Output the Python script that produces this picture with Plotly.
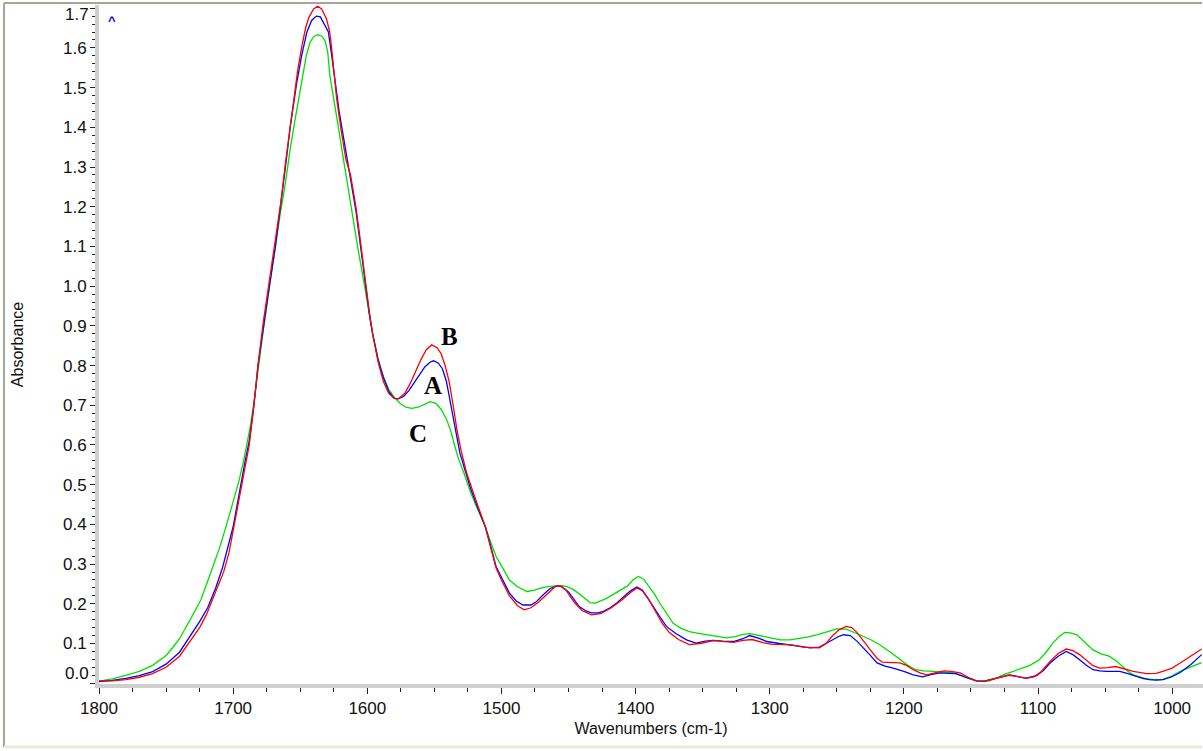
import plotly.graph_objects as go

# ---------------- data ----------------
wn_A = [1800, 1790, 1780, 1770, 1760, 1750, 1740, 1732, 1725, 1719, 1713, 1708, 1704, 1700, 1697, 1694, 1691, 1688,
        1684.5, 1681.5, 1677.5, 1673, 1668.5, 1664.5, 1661, 1657.5, 1654, 1652.7, 1649, 1645, 1641.5, 1638, 1635,
        1632.9, 1629, 1626.5, 1624, 1621, 1617, 1612.5, 1608.5, 1605, 1601.5, 1598.5, 1596, 1592, 1588, 1584, 1580,
        1577, 1573, 1569, 1565, 1561, 1557, 1553, 1550.5, 1547, 1544, 1541, 1538.5, 1535, 1531, 1527, 1523, 1518,
        1512, 1508, 1504, 1499, 1494, 1489, 1484, 1478, 1474, 1469, 1464, 1459, 1455, 1450, 1446, 1442, 1437, 1433,
        1428, 1424, 1419, 1414, 1409, 1404, 1399, 1395, 1391, 1387, 1382, 1377, 1370, 1362, 1355, 1348, 1342, 1335,
        1327, 1320, 1315, 1308, 1302, 1293, 1285, 1277, 1270, 1263, 1258, 1253, 1249, 1245, 1240, 1235, 1230, 1225,
        1220, 1214, 1208, 1200, 1193, 1186, 1179, 1173, 1167, 1161, 1154, 1146, 1140, 1133, 1127, 1121, 1114, 1109,
        1101, 1096, 1091, 1085, 1079, 1074, 1069, 1064, 1059, 1054, 1049, 1044, 1039, 1033, 1027, 1022, 1017, 1012,
        1007, 1001, 994, 986, 978]
abs_A = [0.004, 0.007, 0.012, 0.019, 0.029, 0.048, 0.078, 0.118, 0.155, 0.190, 0.240, 0.290, 0.340, 0.394, 0.450, 0.510, 0.560, 0.610,
         0.700, 0.800, 0.900, 1.000, 1.100, 1.200, 1.300, 1.400, 1.480, 1.510, 1.580, 1.640, 1.669, 1.680, 1.678,
         1.665, 1.640, 1.580, 1.510, 1.440, 1.360, 1.270, 1.190, 1.100, 1.000, 0.930, 0.880, 0.815, 0.770, 0.735, 0.718,
         0.716, 0.722, 0.737, 0.757, 0.778, 0.797, 0.809, 0.812, 0.806, 0.792, 0.760, 0.713, 0.650, 0.580, 0.535, 0.490, 0.445,
         0.394, 0.345, 0.294, 0.260, 0.227, 0.207, 0.197, 0.197, 0.205, 0.222, 0.238, 0.245, 0.243, 0.230, 0.210, 0.193, 0.182, 0.177,
         0.177, 0.181, 0.190, 0.202, 0.217, 0.232, 0.242, 0.235, 0.215, 0.193, 0.168, 0.143, 0.125, 0.109, 0.101, 0.106, 0.108, 0.106,
         0.105, 0.112, 0.120, 0.113, 0.105, 0.100, 0.097, 0.093, 0.089, 0.091, 0.100, 0.109, 0.117, 0.122, 0.120, 0.106, 0.089, 0.070,
         0.051, 0.043, 0.038, 0.030, 0.021, 0.016, 0.022, 0.026, 0.025, 0.024, 0.015, 0.006, 0.005, 0.011, 0.017, 0.021, 0.016, 0.013,
         0.019, 0.032, 0.051, 0.068, 0.080, 0.072, 0.059, 0.045, 0.034, 0.031, 0.030, 0.030, 0.030, 0.024, 0.017, 0.012, 0.009, 0.008,
         0.009, 0.015, 0.027, 0.047, 0.072]

wn_B = [1800, 1790, 1780, 1770, 1760, 1750, 1740, 1732, 1725, 1720, 1714, 1707, 1703, 1700, 1697, 1694, 1691, 1688,
        1684.5, 1681.5, 1677.5, 1673, 1668.5, 1664.5, 1661, 1657, 1655, 1652, 1649, 1646, 1643.5, 1640, 1637, 1634,
        1630.3, 1628, 1626.6, 1625, 1622.9, 1619.7, 1616, 1612.5, 1608.5, 1605, 1601.5, 1598.5, 1596, 1592, 1588, 1584,
        1580, 1577, 1572, 1568, 1564, 1560, 1556, 1552, 1548, 1545, 1542, 1539, 1536, 1533, 1530, 1526, 1520, 1512,
        1504, 1500, 1494, 1488, 1483, 1478, 1472, 1466, 1460, 1456, 1452, 1446, 1440, 1433, 1426, 1418, 1410, 1404,
        1399, 1395, 1390, 1385, 1380, 1375, 1368, 1360, 1352, 1342, 1335, 1327, 1320, 1313, 1305, 1298, 1285, 1275,
        1263, 1258, 1253, 1248, 1243, 1239, 1235, 1230, 1225, 1220, 1216, 1208, 1203, 1198, 1193, 1188, 1183, 1177,
        1170, 1165, 1158, 1152, 1146, 1140, 1133, 1126, 1122, 1114, 1109, 1103, 1098, 1091, 1085, 1079, 1074, 1069,
        1064, 1059, 1054, 1048, 1042, 1036, 1029, 1019, 1012, 1007, 1000, 994, 986, 978]
abs_B = [0.006, 0.006, 0.009, 0.015, 0.024, 0.040, 0.068, 0.105, 0.140, 0.172, 0.222, 0.281, 0.330, 0.385, 0.440, 0.500, 0.550, 0.600,
         0.700, 0.800, 0.910, 1.010, 1.110, 1.210, 1.310, 1.410, 1.474, 1.540, 1.600, 1.650, 1.677, 1.698, 1.705, 1.698,
         1.672, 1.640, 1.600, 1.550, 1.474, 1.397, 1.320, 1.280, 1.200, 1.110, 1.010, 0.935, 0.880, 0.810, 0.760, 0.730,
         0.717, 0.716, 0.730, 0.755, 0.785, 0.815, 0.840, 0.852, 0.845, 0.830, 0.800, 0.760, 0.700, 0.635, 0.585, 0.530, 0.470, 0.394,
         0.290, 0.260, 0.220, 0.195, 0.185, 0.190, 0.205, 0.225, 0.243, 0.245, 0.235, 0.205, 0.183, 0.172, 0.175, 0.190, 0.210, 0.228,
         0.240, 0.233, 0.210, 0.180, 0.150, 0.128, 0.110, 0.097, 0.100, 0.107, 0.105, 0.103, 0.108, 0.110, 0.102, 0.098, 0.097, 0.091,
         0.089, 0.100, 0.120, 0.135, 0.143, 0.140, 0.128, 0.105, 0.084, 0.063, 0.053, 0.052, 0.051, 0.045, 0.034, 0.026, 0.021, 0.026,
         0.031, 0.030, 0.026, 0.015, 0.006, 0.005, 0.011, 0.018, 0.020, 0.016, 0.012, 0.016, 0.028, 0.055, 0.075, 0.086, 0.082, 0.072,
         0.057, 0.044, 0.038, 0.039, 0.042, 0.037, 0.030, 0.024, 0.025, 0.030, 0.038, 0.051, 0.068, 0.086]

wn_C = [1800, 1790, 1780, 1770, 1760, 1750, 1745, 1740, 1732, 1724, 1716, 1710, 1705, 1700, 1696, 1692.5, 1690, 1687,
        1684, 1681, 1677.5, 1673.5, 1669, 1665, 1661, 1657.5, 1653.9, 1649, 1645.5, 1642.8, 1640, 1637, 1634, 1631.6,
        1629.5, 1627.9, 1625, 1622.4, 1619, 1615, 1611, 1607, 1602, 1599, 1596, 1592, 1588, 1584, 1580, 1575, 1571,
        1567, 1562, 1557, 1553, 1549, 1545, 1541, 1538, 1535, 1532, 1528, 1523, 1518, 1512, 1508, 1504, 1499, 1494,
        1488, 1481, 1476, 1470, 1464, 1459, 1455, 1451, 1446, 1442, 1437, 1434, 1430, 1427, 1422, 1417, 1412, 1406,
        1402, 1398, 1394, 1390, 1386, 1382, 1377, 1372, 1366, 1360, 1352, 1345, 1337, 1332, 1325, 1320, 1315, 1308,
        1300, 1292, 1285, 1280, 1272, 1265, 1258, 1250, 1243, 1238, 1233, 1225, 1218, 1210, 1203, 1197, 1191, 1185,
        1178, 1170, 1163, 1155, 1146, 1140, 1136, 1131, 1126, 1120, 1114, 1106, 1099, 1094, 1089, 1084, 1080, 1076,
        1071, 1065, 1059, 1053, 1047, 1042, 1037, 1033, 1029, 1024, 1019, 1013, 1007, 1001, 994, 986, 978]
abs_C = [0.005, 0.011, 0.020, 0.030, 0.045, 0.070, 0.090, 0.112, 0.160, 0.210, 0.285, 0.342, 0.398, 0.455, 0.505, 0.555, 0.596, 0.650,
         0.720, 0.800, 0.890, 0.985, 1.090, 1.180, 1.260, 1.345, 1.418, 1.518, 1.580, 1.613, 1.628, 1.633, 1.630, 1.619,
         1.590, 1.530, 1.475, 1.418, 1.345, 1.260, 1.175, 1.095, 1.000, 0.935, 0.880, 0.818, 0.772, 0.740, 0.720, 0.703, 0.695,
         0.692, 0.695, 0.703, 0.709, 0.705, 0.690, 0.665, 0.638, 0.600, 0.565, 0.530, 0.480, 0.440, 0.394, 0.355, 0.319, 0.290, 0.260,
         0.243, 0.231, 0.234, 0.240, 0.244, 0.245, 0.246, 0.243, 0.235, 0.225, 0.211, 0.203, 0.202, 0.206, 0.213, 0.223, 0.233, 0.245,
         0.260, 0.269, 0.262, 0.245, 0.225, 0.202, 0.176, 0.151, 0.138, 0.130, 0.125, 0.121, 0.118, 0.114, 0.118, 0.123, 0.125, 0.120,
         0.113, 0.109, 0.109, 0.111, 0.116, 0.122, 0.129, 0.137, 0.136, 0.130, 0.122, 0.110, 0.097, 0.078, 0.059, 0.045, 0.034, 0.031,
         0.030, 0.028, 0.026, 0.016, 0.006, 0.004, 0.006, 0.013, 0.021, 0.028, 0.036, 0.045, 0.059, 0.078, 0.101, 0.118, 0.128, 0.127,
         0.122, 0.104, 0.084, 0.074, 0.068, 0.057, 0.042, 0.030, 0.021, 0.015, 0.011, 0.009, 0.009, 0.017, 0.030, 0.041, 0.052]

series_colors = {"A": "#0000ff", "B": "#ff0000", "C": "#00e000"}

x_tick_vals = [1800, 1700, 1600, 1500, 1400, 1300, 1200, 1100, 1000]
y_tick_vals = [0.0, 0.1, 0.2, 0.3, 0.4, 0.5, 0.6, 0.7, 0.8, 0.9, 1.0, 1.1, 1.2, 1.3, 1.4, 1.5, 1.6, 1.7]

# curve label annotations (data coordinates)
label_text = ["B", "A", "C"]
label_wn = [1539, 1551, 1562]
label_abs = [0.872, 0.750, 0.630]

# ---------------- figure ----------------
W, H = 1203, 751
ML, MR, MT, MB = 99, 0, 5, 67
X_RANGE = [1800, 977]
Y_RANGE = [-0.002, 1.708]

fig = go.Figure()
for wn, ab, nm in [(wn_C, abs_C, "C"), (wn_A, abs_A, "A"), (wn_B, abs_B, "B")]:
    fig.add_trace(go.Scatter(x=wn, y=ab, mode="lines", name=nm,
                             line=dict(color=series_colors[nm], width=1.3), hoverinfo="x+y+name"))

tick_font = dict(family="Liberation Sans, Arial, sans-serif", size=17, color="#111111")

fig.update_layout(
    width=W, height=H, autosize=False,
    margin=dict(l=ML, r=MR, t=MT, b=MB, pad=0),
    paper_bgcolor="white", plot_bgcolor="white",
    showlegend=False,
    font=dict(family="Liberation Sans, Arial, sans-serif", size=16, color="#111111"),
    xaxis=dict(
        range=X_RANGE, tickmode="array", tickvals=x_tick_vals,
        ticktext=[str(v) for v in x_tick_vals],
        showgrid=False, zeroline=False,
        showline=True, linecolor="#cfcfcf", linewidth=4,
        ticks="outside", ticklen=6, tickcolor="#222222", tickwidth=1,
        minor=dict(dtick=25, ticks="outside", ticklen=4, tickcolor="#222222", tickwidth=1, showgrid=False),
        tickfont=tick_font,
        title=dict(text="Wavenumbers (cm-1)", font=dict(size=16), standoff=6),
    ),
    yaxis=dict(
        range=Y_RANGE, tickmode="array", tickvals=y_tick_vals,
        ticktext=["" if v in (0.0, 1.7) else f"{v:.1f}" for v in y_tick_vals],
        showgrid=False, zeroline=False,
        showline=True, linecolor="#cfcfcf", linewidth=4,
        ticks="outside", ticklen=5, tickcolor="#222222", tickwidth=1,
        minor=dict(dtick=0.02, tick0=0, ticks="outside", ticklen=3, tickcolor="#222222", tickwidth=1, showgrid=False),
        tickfont=tick_font,
        title=dict(text="Absorbance", font=dict(size=16), standoff=36),
    ),
)

pw = W - ML - MR
ph = H - MT - MB

def px_to_paper(px, py):
    return (px - ML) / pw, (H - MB - py) / ph

# shifted edge tick labels (as in the reference)
for txt, py in [("1.7", 15), ("0.0", 673)]:
    _, yp = px_to_paper(0, py)
    fig.add_annotation(x=-8 / pw, y=yp, xref="paper", yref="paper", text=txt,
                       showarrow=False, xanchor="right", yanchor="middle", font=tick_font)

# curve labels
for t, xw, ya in zip(label_text, label_wn, label_abs):
    fig.add_annotation(x=xw, y=ya, text=f"<b>{t}</b>", showarrow=False,
                       font=dict(family="Liberation Serif, Times New Roman, serif", size=25, color="black"))

# small blue caret in upper left
cx, cy = px_to_paper(112, 11)
fig.add_annotation(x=cx, y=cy, xref="paper", yref="paper", text="<b>^</b>", showarrow=False,
                   xanchor="center",
                   font=dict(family="Liberation Sans, Arial, sans-serif", size=13, color="#0000ff"))

# window frame lines
x0, y0 = px_to_paper(4, 3)
x1, y1 = px_to_paper(1202, 747)
fig.add_shape(type="line", xref="paper", yref="paper", x0=x0, y0=y0, x1=x1, y1=y0,
              line=dict(color="#a8a496", width=2), layer="above")
fig.add_shape(type="line", xref="paper", yref="paper", x0=x0, y0=y0, x1=x0, y1=y1,
              line=dict(color="#a8a496", width=2), layer="above")
fig.add_shape(type="line", xref="paper", yref="paper", x0=x0, y0=y1, x1=x1, y1=y1,
              line=dict(color="#ece9d8", width=3), layer="above")

fig.write_html("out.html", include_plotlyjs=True, full_html=True,
               config={"displayModeBar": False},
               post_script="document.body.style.margin='0';")
